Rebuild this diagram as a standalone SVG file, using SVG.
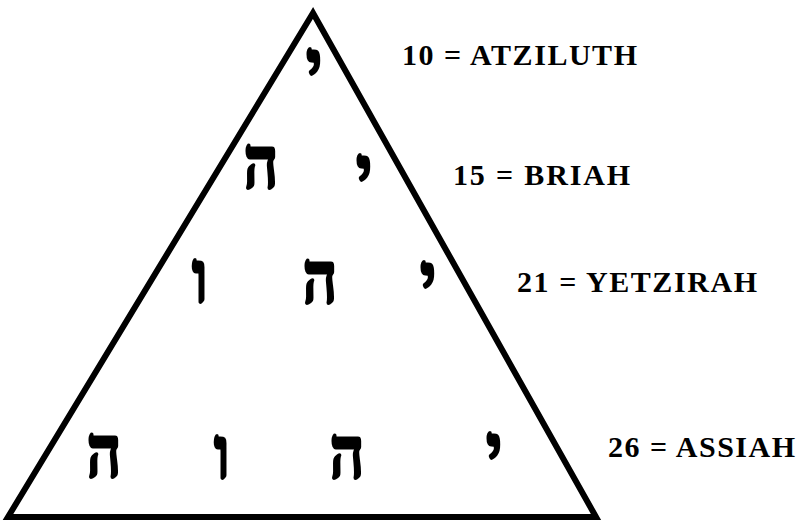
<svg xmlns="http://www.w3.org/2000/svg" width="802" height="522" viewBox="0 0 802 522">
<style>
.heb{font-family:"DejaVu Serif","Liberation Serif",serif;font-weight:bold;font-size:60px;fill:#000;stroke:#000;stroke-width:2.5;text-anchor:middle}
.lbl{font-family:"Liberation Serif","DejaVu Serif",serif;font-weight:bold;font-size:30px;fill:#000}
</style>
<rect width="802" height="522" fill="#fff"/>
<g id="connectors">
<polygon points="313,13 8,517 596,517" fill="none" stroke="#000" stroke-width="6" stroke-linejoin="miter"/>
</g>
<g id="row1">
<text class="heb" transform="translate(314,91) scale(1,1.2)">י</text>
</g>
<g id="row2">
<text class="heb" transform="translate(364,197) scale(1,1.2)">י</text>
<text class="heb" transform="translate(261,188) scale(1,1.2)">ה</text>
</g>
<g id="row3">
<text class="heb" transform="translate(200,302) scale(1,1.2)">ו</text>
<text class="heb" transform="translate(320,303) scale(1,1.2)">ה</text>
<text class="heb" transform="translate(428,304) scale(1,1.2)">י</text>
</g>
<g id="row4">
<text class="heb" transform="translate(104,477) scale(1,1.2)">ה</text>
<text class="heb" transform="translate(222,478) scale(1,1.2)">ו</text>
<text class="heb" transform="translate(347,478) scale(1,1.2)">ה</text>
<text class="heb" transform="translate(494,475) scale(1,1.2)">י</text>
</g>
<g id="labels">
<text class="lbl" x="402" y="65" textLength="235" lengthAdjust="spacing">10 = ATZILUTH</text>
<text class="lbl" x="453" y="185" textLength="177" lengthAdjust="spacing">15 = BRIAH</text>
<text class="lbl" x="517" y="292" textLength="240" lengthAdjust="spacing">21 = YETZIRAH</text>
<text class="lbl" x="608" y="457" textLength="187" lengthAdjust="spacing">26 = ASSIAH</text>
</g>
</svg>
